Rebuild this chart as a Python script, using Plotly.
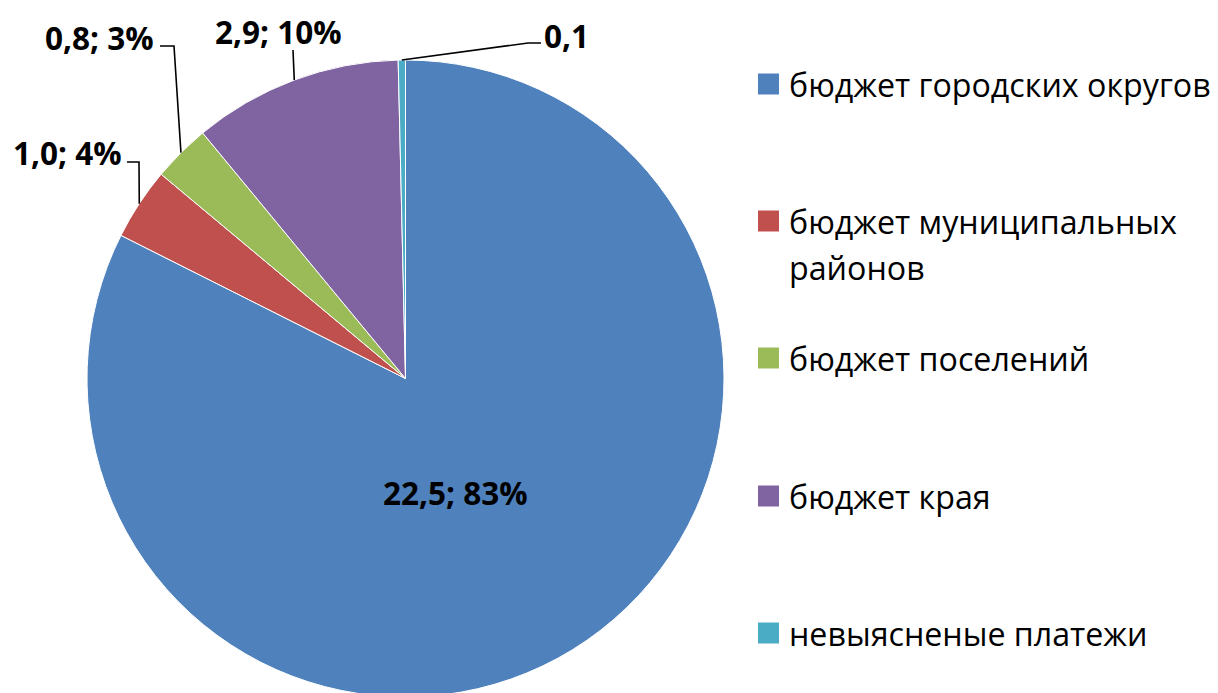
import math
import plotly.graph_objects as go

# ---------------- data ----------------
categories = [
    "бюджет городских округов",
    "бюджет муниципальных районов",
    "бюджет поселений",
    "бюджет края",
    "невыясненые платежи",
]
legend_lines = [
    ["бюджет городских округов"],
    ["бюджет муниципальных", "районов"],
    ["бюджет поселений"],
    ["бюджет края"],
    ["невыясненые платежи"],
]
values = [22.5, 1.0, 0.8, 2.9, 0.1]
label_texts = ["22,5; 83%", "1,0; 4%", "0,8; 3%", "2,9; 10%", "0,1"]
colors = ["#4F81BD", "#C0504D", "#9BBB59", "#8064A2", "#4BACC6"]

# ---------------- layout geometry (screen pixels) ----------------
OFF = 8            # page body offset
W, H = 1218 - OFF, 693
CX_S, CY_S, R = 405.5, 378.5, 318.5
MT = CY_S - R - OFF
PH = 2 * R
MB = H - MT - PH

def px(x):
    return (x - OFF) / W

def py(y):
    return 1 - (y - OFF - MT) / PH

FONT = "Open Sans"

fig = go.Figure()
fig.add_trace(go.Pie(
    labels=categories,
    values=values,
    sort=False,
    direction="clockwise",
    rotation=0,
    textinfo="none",
    marker=dict(colors=colors, line=dict(color="white", width=1)),
    domain=dict(x=[px(CX_S - R), px(CX_S + R)], y=[0, 1]),
    showlegend=False,
    hoverinfo="label+value+percent",
))

# label positions (screen px): center of text
label_pos = [(455, 492), (67, 152), (100, 38), (278, 31), (566, 35)]
# leader line: start point near label and elbow; end at slice edge (computed)
leaders = [None, [(127, 162), (139, 162)], [(160, 46), (174, 46)], [(293, 50)], [(541, 43), (528, 43)]]

total = sum(values)
cum = 0.0
annotations = []
shapes = []
for i, v in enumerate(values):
    theta = 2 * math.pi * (cum + v / 2.0) / total
    cum += v
    ex = CX_S + R * math.sin(theta)
    ey = CY_S - R * math.cos(theta)
    lx, ly = label_pos[i]
    annotations.append(dict(
        x=px(lx), y=py(ly), xref="paper", yref="paper",
        text="<b>%s</b>" % label_texts[i], showarrow=False,
        xanchor="center", yanchor="middle",
        font=dict(family=FONT, size=31.5, color="black"),
    ))
    if leaders[i]:
        pts = leaders[i] + [(ex, ey)]
        path = "M %f %f " % (px(pts[0][0]), py(pts[0][1]))
        for (qx, qy) in pts[1:]:
            path += "L %f %f " % (px(qx), py(qy))
        shapes.append(dict(type="path", xref="paper", yref="paper", path=path,
                           line=dict(color="black", width=1.6)))

# manual legend
marker_y = [84, 221, 358, 496, 633]
LINE_GAP = 46
for i, cat in enumerate(categories):
    my = marker_y[i]
    shapes.append(dict(type="rect", xref="paper", yref="paper",
                       x0=px(758), x1=px(779), y0=py(my + 10.5), y1=py(my - 10.5),
                       fillcolor=colors[i], line=dict(width=0)))
    for j, line in enumerate(legend_lines[i]):
        annotations.append(dict(
            x=px(787), y=py(my + j * LINE_GAP), xref="paper", yref="paper",
            text=line, showarrow=False, align="left",
            xanchor="left", yanchor="middle",
            font=dict(family=FONT, size=32.2, color="black"),
        ))

fig.update_layout(
    width=W, height=H,
    margin=dict(l=0, r=0, t=MT, b=MB),
    paper_bgcolor="white", plot_bgcolor="white",
    annotations=annotations, shapes=shapes,
    showlegend=False,
)

fig.write_html("out.html")
